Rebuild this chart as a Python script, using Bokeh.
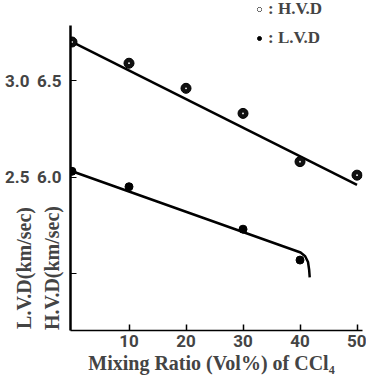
from bokeh.plotting import figure
from bokeh.models import Range1d, LinearAxis, FixedTicker, Legend, LegendItem
from bokeh.embed import file_html
from bokeh.resources import INLINE

# Mixing ratio (Vol% of CCl4)
mix_h = [0, 10, 20, 30, 40, 50]
hvd = [6.70, 6.59, 6.46, 6.33, 6.08, 6.01]          # H.V.D (km/sec)
mix_l = [0, 10, 30, 40]
lvd = [2.53, 2.45, 2.23, 2.07]                      # L.V.D (km/sec)

# drawn fit lines
hvd_fit_x = [0, 50]
hvd_fit_y = [6.70, 5.96]
lvd_fit_x = [0, 40.1, 40.9, 41.4, 41.6, 41.7]
lvd_fit_y = [2.53, 2.109, 2.09, 2.06, 2.02, 1.98]

x_ticks = [10, 20, 30, 40, 50]
hvd_ticks = [5.5, 6.0, 6.5]
lvd_ticks = [2.5, 3.0]
hvd_axis_bounds = (5.205, 6.785)

SERIF = "Liberation Serif"
SANS = "Roboto"
PAD = "\u00a0" * 41   # pushes the rotated titles toward the bottom of the axis

p = figure(width=366, height=378, output_backend="svg", toolbar_location=None,
           x_range=Range1d(-0.263, 50.96), y_range=Range1d(5.205, 6.915),
           min_border_left=70, min_border_right=4, min_border_top=0, min_border_bottom=48)
p.extra_y_ranges = {"lvd": Range1d(1.705, 3.415)}
p.grid.visible = False
p.outline_line_color = None

# x axis
xa = p.xaxis[0]
xa.ticker = FixedTicker(ticks=x_ticks)
xa.major_tick_in = 6
xa.major_tick_out = 0
xa.minor_tick_line_color = None
xa.axis_line_width = 1.5
xa.major_tick_line_width = 1.5
xa.major_label_text_font = SANS
xa.major_label_text_font_style = "bold"
xa.major_label_text_font_size = "17px"
xa.major_label_text_line_height = 1.0
xa.major_label_standoff = 4
xa.axis_label = "Mixing Ratio (Vol%)  of  CCl\u2084"
xa.axis_label_text_font = SERIF
xa.axis_label_text_font_style = "bold"
xa.axis_label_text_font_size = "20px"
xa.axis_label_text_line_height = 1.0
xa.axis_label_standoff = 2

# H.V.D axis (inner left)
ya = p.yaxis[0]
ya.ticker = FixedTicker(ticks=hvd_ticks)
ya.bounds = hvd_axis_bounds
ya.major_label_overrides = {5.5: "", 6.0: "6.0", 6.5: "6.5"}
ya.major_tick_in = 6
ya.major_tick_out = 0
ya.minor_tick_line_color = None
ya.axis_line_width = 2.5
ya.major_label_text_font = SANS
ya.major_label_text_font_style = "bold"
ya.major_label_text_font_size = "17px"
ya.major_label_standoff = 9
ya.axis_label = "H.V.D(km/sec)" + PAD
ya.axis_label_text_font = SERIF
ya.axis_label_text_font_style = "bold"
ya.axis_label_text_font_size = "20px"
ya.axis_label_standoff = -29

# L.V.D axis (outer left)
la = LinearAxis(y_range_name="lvd", ticker=FixedTicker(ticks=lvd_ticks))
la.major_label_overrides = {2.5: "2.5", 3.0: "3.0"}
la.axis_line_color = None
la.major_tick_line_color = None
la.minor_tick_line_color = None
la.major_label_text_font = SANS
la.major_label_text_font_style = "bold"
la.major_label_text_font_size = "17px"
la.major_label_standoff = 3
la.axis_label = "L.V.D(km/sec)" + PAD
la.axis_label_text_font = SERIF
la.axis_label_text_font_style = "bold"
la.axis_label_text_font_size = "20px"
la.axis_label_standoff = -33
p.add_layout(la, "left")

# lines
p.line(hvd_fit_x, hvd_fit_y, line_color="black", line_width=2.5)
p.line(lvd_fit_x, lvd_fit_y, line_color="black", line_width=2.5, y_range_name="lvd")

# points
rh = p.scatter(mix_h, hvd, size=10, fill_color="#111111", line_color="black")
rh2 = p.scatter(mix_h, hvd, size=1.8, fill_color="white", line_color=None)
rl = p.scatter(mix_l, lvd, size=8, fill_color="black", line_color="black", y_range_name="lvd")

legend = Legend(items=[LegendItem(label=": H.V.D", renderers=[rh, rh2]),
                       LegendItem(label=": L.V.D", renderers=[rl])],
                location=(184, 282))
legend.border_line_color = None
legend.background_fill_alpha = 0
legend.glyph_width = 10
legend.glyph_height = 10
legend.label_standoff = 4
legend.spacing = 9
legend.padding = 0
legend.margin = 0
legend.label_height = 15
legend.label_text_font = SERIF
legend.label_text_font_style = "bold"
legend.label_text_font_size = "17px"
p.add_layout(legend)

open("out.html", "w").write(file_html(p, INLINE))
